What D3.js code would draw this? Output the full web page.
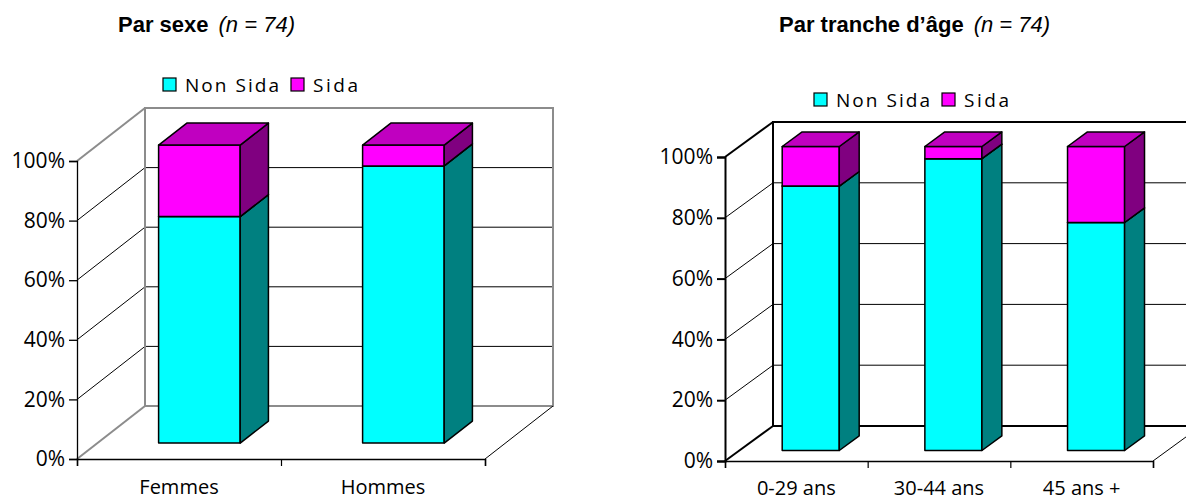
<!DOCTYPE html>
<html>
<head>
<meta charset="utf-8">
<script src="https://cdn.jsdelivr.net/npm/d3@7"></script>
<style>
  html, body { margin: 0; padding: 0; background: #fff; }
  svg { display: block; }
  .tick text { font-family: "Open Sans", "DejaVu Sans", sans-serif; }
</style>
</head>
<body>
<svg id="chart" width="1186" height="502"></svg>
<script>
// Stacked 3D columns: share of "Non Sida" / "Sida" per group (n = 74)
const seriesNames = ["Non Sida", "Sida"];
const yTicks = [0, 20, 40, 60, 80, 100];

const sexCategories = ["Femmes", "Hommes"];
const sexNonSida = [76, 93];
const sexSida = [24, 7];

const ageCategories = ["0-29 ans", "30-44 ans", "45 ans +"];
const ageNonSida = [87, 96, 75];
const ageSida = [13, 4, 25];

const colors = {
  "Non Sida": { front: "#00ffff", side: "#008080", top: "#00c0c0" },
  "Sida":     { front: "#ff00ff", side: "#800080", top: "#c000c0" }
};

const svg = d3.select("#chart");
svg.append("rect").attr("width", 1186).attr("height", 502).attr("fill", "#fff");

const labelFont = '"Open Sans", "DejaVu Sans", sans-serif';

function drawPanel(p) {
  const g = svg.append("g");
  const n = p.categories.length;

  const x = d3.scaleBand().domain(p.categories).range([p.x0, p.x1])
    .paddingInner(0.6).paddingOuter(0.3);
  const y = d3.scaleLinear().domain([0, 100]).range([p.yBase, p.yTop]);
  const xEdges = d3.scaleLinear().domain([0, n]).range([p.x0, p.x1]);

  // depth projection: z in [0,1] from front plane to back wall
  const pr = (px, py, z) => [px + z * p.dx, py - z * p.dy];
  const line = d3.line();

  const xb0 = p.x0 + p.dx, xb1 = p.x1 + p.dx;
  const yb0 = y(0) - p.dy, yb100 = y(100) - p.dy;

  // gridlines on back wall and left wall
  yTicks.filter(t => t > 0 && t < 100).forEach(t => {
    g.append("line").attr("x1", xb0).attr("x2", xb1)
      .attr("y1", y(t) - p.dy).attr("y2", y(t) - p.dy)
      .attr("stroke", "#000").attr("stroke-width", 1);
    g.append("path").attr("d", line([pr(p.x0, y(t), 0), pr(p.x0, y(t), 1)]))
      .attr("stroke", "#000").attr("stroke-width", 1).attr("fill", "none");
  });

  // walls
  const wall = { stroke: p.wallColor, "stroke-width": p.wallWidth, fill: "none" };
  const addPath = (pts, st) => {
    const e = g.append("path").attr("d", line(pts));
    Object.entries(st).forEach(([k, v]) => e.attr(k, v));
    return e;
  };
  addPath([[xb0, yb0], [xb0, yb100], [xb1, yb100], [xb1, yb0], [xb0, yb0]], wall);
  addPath([pr(p.x0, y(100), 0), pr(p.x0, y(100), 1)], wall);
  addPath([pr(p.x0, y(0), 0), pr(p.x0, y(0), 1)], wall);
  addPath([pr(p.x1, y(0), 0), pr(p.x1, y(0), 1)],
    { stroke: "#000", "stroke-width": 1, fill: "none" });

  // axes on the front plane
  const yAxis = g.append("g").attr("transform", `translate(${p.x0},0)`)
    .call(d3.axisLeft(y).tickValues(yTicks).tickFormat(d => d + "%").tickSize(8).tickPadding(4));
  yAxis.select(".domain").attr("stroke", "#000").attr("stroke-width", p.axisWidth);
  yAxis.selectAll(".tick line").attr("stroke", "#000").attr("stroke-width", p.axisWidth);
  yAxis.selectAll(".tick text").attr("font-size", 21).attr("fill", "#000");

  const xAxis = g.append("g").attr("transform", `translate(0,${p.yBase})`)
    .call(d3.axisBottom(xEdges).ticks(n).tickFormat("").tickSize(7));
  xAxis.select(".domain").attr("stroke", "#000").attr("stroke-width", 1.5);
  xAxis.selectAll(".tick line").attr("stroke", "#000").attr("stroke-width", 1.2);

  g.selectAll("text.cat").data(p.categories).join("text")
    .attr("class", "cat")
    .attr("x", d => x(d) + x.bandwidth() / 2)
    .attr("y", p.catY)
    .attr("text-anchor", "middle")
    .attr("font-family", labelFont).attr("font-size", 20)
    .text(d => d);

  // stacked bars
  const rows = p.categories.map((c, i) => ({ cat: c, "Non Sida": p.nonSida[i], "Sida": p.sida[i] }));
  const stack = d3.stack().keys(seriesNames)(rows);
  const zf = 0.3, zb = 0.715;
  const bw = x.bandwidth();

  p.categories.forEach((c, i) => {
    stack.forEach(layer => {
      const [v0, v1] = layer[i];
      if (v1 - v0 <= 0) return;
      const col = colors[layer.key];
      const xl = x(c), xr = x(c) + bw;
      const face = (pts, fill) => g.append("path").attr("d", line(pts) + "Z")
        .attr("fill", fill).attr("stroke", "#000").attr("stroke-width", 1.5)
        .attr("stroke-linejoin", "round");
      face([pr(xl, y(v0), zf), pr(xr, y(v0), zf), pr(xr, y(v1), zf), pr(xl, y(v1), zf)], col.front);
      face([pr(xr, y(v0), zf), pr(xr, y(v0), zb), pr(xr, y(v1), zb), pr(xr, y(v1), zf)], col.side);
      face([pr(xl, y(v1), zf), pr(xr, y(v1), zf), pr(xr, y(v1), zb), pr(xl, y(v1), zb)], col.top);
    });
  });

  // legend
  const lg = g.append("g");
  let lx = p.legendX;
  seriesNames.forEach((s, k) => {
    lg.append("rect").attr("x", lx).attr("y", p.legendY - 13).attr("width", 13).attr("height", 13)
      .attr("fill", colors[s].front).attr("stroke", "#000").attr("stroke-width", 1.2);
    lg.append("text").attr("x", lx + 22).attr("y", p.legendY + 1)
      .attr("font-family", labelFont).attr("font-size", 19)
      .attr("textLength", k === 0 ? 94 : 45).attr("lengthAdjust", "spacing")
      .text(s);
    lx += k === 0 ? 128 : 0;
  });

  // title
  const title = svg.append("text").attr("x", p.titleX).attr("y", 32)
    .attr("font-family", '"Liberation Sans", Arial, sans-serif').attr("font-size", 22);
  title.append("tspan").attr("font-weight", "bold").text(p.title);
  title.append("tspan").attr("font-style", "italic").attr("dx", 10).text("(n = 74)");
}

drawPanel({
  categories: sexCategories, nonSida: sexNonSida, sida: sexSida,
  x0: 77, x1: 485, yBase: 459, yTop: 161, dx: 68, dy: 53,
  wallColor: "#8c8c8c", wallWidth: 2, axisWidth: 1.3,
  legendX: 163, legendY: 91, titleX: 118, title: "Par sexe", catY: 494
});

drawPanel({
  categories: ageCategories, nonSida: ageNonSida, sida: ageSida,
  x0: 725, x1: 1153, yBase: 461, yTop: 157, dx: 48, dy: 35,
  wallColor: "#000", wallWidth: 2, axisWidth: 2,
  legendX: 814, legendY: 106, titleX: 779, title: "Par tranche d’âge", catY: 495
});
</script>
</body>
</html>
